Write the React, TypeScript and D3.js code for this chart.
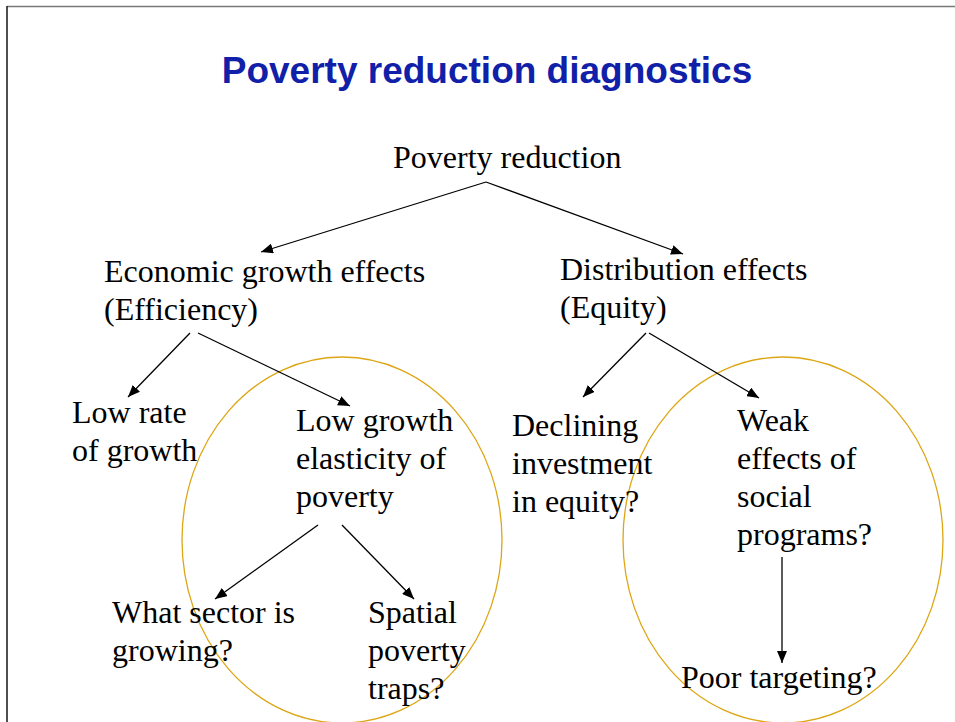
import * as d3 from "d3";
import { useEffect, useRef } from "react";

// ---------- data ----------
const titleText = "Poverty reduction diagnostics";

const nodeIds = ["root", "growth", "distrib", "lowRate", "elasticity", "sector", "spatial", "declining", "weak", "targeting"];

const nodeLines: string[][] = [
    ["Poverty reduction"],
    ["Economic growth effects", "(Efficiency)"],
    ["Distribution effects", "(Equity)"],
    ["Low rate", "of growth"],
    ["Low growth", "elasticity of", "poverty"],
    ["What sector is", "growing?"],
    ["Spatial", "poverty", "traps?"],
    ["Declining", "investment", "in equity?"],
    ["Weak", "effects of", "social", "programs?"],
    ["Poor targeting?"],
];

const edgeFrom = ["root", "root", "growth", "growth", "elasticity", "elasticity", "distrib", "distrib", "weak"];
const edgeTo = ["growth", "distrib", "lowRate", "elasticity", "sector", "spatial", "declining", "weak", "targeting"];

// groups circled in the slide
const circledNodes = ["elasticity", "weak"];

// ---------- layout (pixels) ----------
const textPos: Record<string, [number, number]> = {
    root: [393, 168],
    growth: [104, 282],
    distrib: [560, 280],
    lowRate: [72, 423],
    elasticity: [296, 431],
    sector: [112, 623],
    spatial: [368, 623],
    declining: [512, 436],
    weak: [737, 431],
    targeting: [681, 688],
};

// arrow start / tip per edge
const edgeStart: [number, number][] = [
    [486, 182], [486, 182], [190, 333], [198, 333], [318, 525], [342, 525], [646, 333], [649, 333], [782, 557],
];
const edgeTip: [number, number][] = [
    [261, 252], [683, 254], [128, 397], [350, 406], [215, 599], [414, 599], [583, 397], [759, 398], [782, 663],
];

const ellipseCenter: Record<string, [number, number]> = {
    elasticity: [342, 540],
    weak: [783, 540],
};
const ellipseR: [number, number] = [160, 183];

const lineGap = 38;

export default function App() {
    const ref = useRef<SVGSVGElement>(null);

    useEffect(() => {
        const svg = d3.select(ref.current);
        svg.selectAll("*").remove();

        svg.append("defs").append("marker")
            .attr("id", "arrowHead")
            .attr("viewBox", "0 0 12 10")
            .attr("refX", 12)
            .attr("refY", 5)
            .attr("markerWidth", 12)
            .attr("markerHeight", 10)
            .attr("markerUnits", "userSpaceOnUse")
            .attr("orient", "auto")
            .append("path")
            .attr("d", "M0,0 L12,5 L0,10 Z")
            .attr("fill", "#000");

        // slide frame
        svg.append("line")
            .attr("x1", 7).attr("y1", 6.5).attr("x2", 955).attr("y2", 6.5)
            .attr("stroke", "#7a7a7a").attr("stroke-width", 1.5);
        svg.append("line")
            .attr("x1", 7).attr("y1", 6).attr("x2", 7).attr("y2", 722)
            .attr("stroke", "#222").attr("stroke-width", 1.6);

        // title
        svg.append("text")
            .text(titleText)
            .attr("x", 487)
            .attr("y", 83)
            .attr("text-anchor", "middle")
            .attr("font-family", "Liberation Sans, Arial, sans-serif")
            .attr("font-weight", "bold")
            .attr("font-size", 37)
            .attr("fill", "#1020a8");

        // ellipses
        svg.selectAll("ellipse")
            .data(circledNodes)
            .join("ellipse")
            .attr("cx", (d) => ellipseCenter[d][0])
            .attr("cy", (d) => ellipseCenter[d][1])
            .attr("rx", ellipseR[0])
            .attr("ry", ellipseR[1])
            .attr("fill", "none")
            .attr("stroke", "#dca614")
            .attr("stroke-width", 1.3);

        // arrows
        svg.selectAll("line.edge")
            .data(edgeFrom.map((f, i) => ({ f, t: edgeTo[i], i })))
            .join("line")
            .attr("class", "edge")
            .attr("x1", (d) => edgeStart[d.i][0])
            .attr("y1", (d) => edgeStart[d.i][1])
            .attr("x2", (d) => edgeTip[d.i][0])
            .attr("y2", (d) => edgeTip[d.i][1])
            .attr("stroke", (d) => (d.t === "targeting" ? "#333" : "#000"))
            .attr("stroke-width", (d) => (d.t === "targeting" ? 1.6 : 1.3))
            .attr("marker-end", "url(#arrowHead)");

        // node labels
        const labels = svg.selectAll("text.node")
            .data(nodeIds.map((id, i) => ({ id, lines: nodeLines[i] })))
            .join("text")
            .attr("class", "node")
            .attr("x", (d) => textPos[d.id][0])
            .attr("y", (d) => textPos[d.id][1])
            .attr("font-family", "Liberation Serif, Times New Roman, serif")
            .attr("font-size", 32)
            .attr("fill", "#000");

        labels.selectAll("tspan")
            .data((d) => d.lines.map((l) => ({ l, x: textPos[d.id][0] })))
            .join("tspan")
            .attr("x", (d) => d.x)
            .attr("dy", (_, i) => (i === 0 ? 0 : lineGap))
            .text((d) => d.l);
    }, []);

    return (
        <svg
            ref={ref}
            width={955}
            height={722}
            style={{ position: "absolute", left: 0, top: 0, background: "#fff" }}
        />
    );
}
